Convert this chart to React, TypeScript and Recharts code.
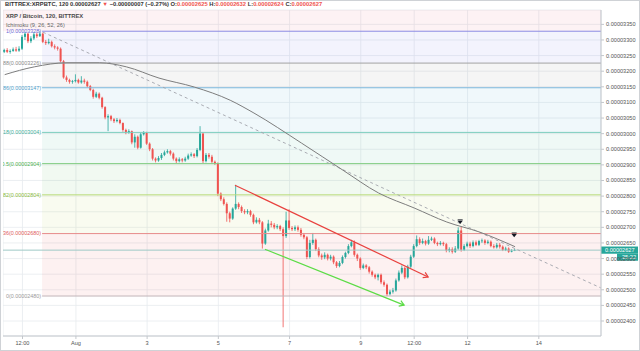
import React from 'react'
import {
  ComposedChart,
  Bar,
  Line,
  XAxis,
  YAxis,
  CartesianGrid,
  ReferenceArea,
  ReferenceLine,
  ReferenceDot,
} from 'recharts'

// XRP/BTC 2h candles, prices in 1e-8 BTC, index 0 = Jul 30 00:00
const opens = [
  3262, 3268, 3262, 3265, 3270, 3266, 3272, 3310, 3320, 3296, 3305, 3318, 3312, 3320, 3294, 3290, 3294, 3280, 3276, 3272,
  3232, 3180, 3172, 3166, 3168, 3172, 3164, 3170, 3166, 3152, 3140, 3118, 3128, 3115, 3085, 3052, 3056, 3046, 3040, 3044,
  3034, 3012, 3004, 3008, 2972, 2990, 2955, 2998, 3002, 2968, 2950, 2920, 2914, 2922, 2932, 2940, 2944, 2936, 2920, 2912,
  2918, 2914, 2920, 2930, 2934, 2928, 2948, 3000, 2912, 2932, 2926, 2910, 2905, 2808, 2790, 2775, 2745, 2728, 2760, 2775,
  2765, 2752, 2748, 2752, 2740, 2716, 2724, 2716, 2648, 2690, 2712, 2708, 2700, 2704, 2694, 2672, 2722, 2698, 2694, 2700,
  2692, 2676, 2668, 2605, 2650, 2660, 2630, 2610, 2604, 2612, 2600, 2606, 2588, 2576, 2586, 2605, 2618, 2640, 2652, 2612,
  2600, 2570, 2578, 2572, 2558, 2548, 2540, 2548, 2524, 2516, 2486, 2494, 2498, 2530, 2555, 2570, 2540, 2574, 2606, 2640,
  2662, 2650, 2656, 2648, 2660, 2664, 2650, 2646, 2650, 2646, 2626, 2630, 2622, 2632, 2690, 2628, 2640, 2648, 2640, 2652,
  2644, 2656, 2658, 2650, 2654, 2640, 2636, 2644, 2638, 2628, 2632, 2622, 2625,
]
const highs = [
  3272, 3274, 3270, 3276, 3278, 3280, 3316, 3326, 3324, 3312, 3325, 3324, 3328, 3324, 3300, 3304, 3298, 3286, 3280, 3276,
  3236, 3186, 3176, 3172, 3190, 3176, 3184, 3176, 3170, 3156, 3144, 3134, 3132, 3118, 3088, 3062, 3060, 3050, 3050, 3048,
  3036, 3016, 3014, 3010, 2998, 2994, 3002, 3008, 3006, 2972, 2954, 2924, 2928, 2938, 2946, 2950, 2948, 2940, 2924, 2924,
  2922, 2926, 2936, 2940, 2938, 2954, 3024, 3004, 2938, 2938, 2932, 2914, 2908, 2812, 2796, 2780, 2750, 2764, 2836, 2780,
  2770, 2758, 2758, 2756, 2744, 2732, 2730, 2720, 2696, 2724, 2720, 2714, 2710, 2708, 2700, 2750, 2758, 2704, 2706, 2706,
  2698, 2682, 2672, 2660, 2682, 2664, 2636, 2616, 2620, 2616, 2612, 2610, 2592, 2592, 2610, 2622, 2646, 2660, 2658, 2616,
  2604, 2584, 2582, 2576, 2562, 2552, 2552, 2552, 2530, 2520, 2500, 2506, 2536, 2562, 2578, 2574, 2580, 2612, 2646, 2674,
  2668, 2664, 2660, 2672, 2670, 2668, 2654, 2656, 2654, 2650, 2636, 2636, 2640, 2700, 2702, 2646, 2654, 2654, 2658, 2658,
  2660, 2664, 2662, 2660, 2658, 2646, 2650, 2650, 2642, 2638, 2636, 2630, 2632,
]
const lows = [
  3258, 3258, 3256, 3262, 3262, 3262, 3268, 3300, 3290, 3290, 3300, 3306, 3310, 3290, 3284, 3286, 3276, 3270, 3266, 3228,
  3176, 3166, 3160, 3160, 3164, 3160, 3160, 3160, 3148, 3136, 3112, 3114, 3110, 3080, 3046, 3008, 3040, 3034, 3036, 3030,
  3006, 2998, 3000, 2966, 2955, 2950, 2952, 2994, 2964, 2944, 2914, 2908, 2910, 2916, 2928, 2936, 2930, 2914, 2906, 2908,
  2908, 2910, 2916, 2926, 2922, 2924, 2944, 2906, 2908, 2920, 2904, 2900, 2800, 2784, 2770, 2718, 2716, 2724, 2756, 2758,
  2746, 2742, 2742, 2734, 2710, 2712, 2710, 2632, 2644, 2686, 2700, 2694, 2694, 2688, 2380, 2666, 2692, 2688, 2688, 2686,
  2670, 2662, 2598, 2600, 2644, 2624, 2604, 2596, 2598, 2594, 2594, 2582, 2570, 2572, 2582, 2600, 2614, 2636, 2606, 2592,
  2564, 2566, 2566, 2552, 2542, 2534, 2530, 2518, 2510, 2480, 2482, 2488, 2494, 2526, 2550, 2534, 2536, 2570, 2602, 2636,
  2644, 2646, 2642, 2644, 2656, 2646, 2640, 2642, 2640, 2620, 2620, 2616, 2618, 2628, 2622, 2624, 2636, 2634, 2636, 2640,
  2640, 2650, 2644, 2646, 2636, 2632, 2632, 2632, 2624, 2624, 2618, 2620, 2624,
]
const closes = [
  3268, 3262, 3265, 3270, 3266, 3272, 3310, 3320, 3296, 3305, 3318, 3312, 3320, 3294, 3290, 3294, 3280, 3276, 3272, 3232,
  3180, 3172, 3166, 3168, 3172, 3164, 3170, 3166, 3152, 3140, 3118, 3128, 3115, 3085, 3052, 3056, 3046, 3040, 3044, 3034,
  3012, 3004, 3008, 2972, 2990, 2955, 2998, 3002, 2968, 2950, 2920, 2914, 2922, 2932, 2940, 2944, 2936, 2920, 2912, 2918,
  2914, 2920, 2930, 2934, 2928, 2948, 3000, 2912, 2932, 2926, 2910, 2905, 2808, 2790, 2775, 2745, 2728, 2760, 2775, 2765,
  2752, 2748, 2752, 2740, 2716, 2724, 2716, 2648, 2690, 2712, 2708, 2700, 2704, 2694, 2672, 2722, 2698, 2694, 2700, 2692,
  2676, 2668, 2605, 2650, 2660, 2630, 2610, 2604, 2612, 2600, 2606, 2588, 2576, 2586, 2605, 2618, 2640, 2652, 2612, 2600,
  2570, 2578, 2572, 2558, 2548, 2540, 2548, 2524, 2516, 2486, 2494, 2498, 2530, 2555, 2570, 2540, 2574, 2606, 2640, 2662,
  2650, 2656, 2648, 2660, 2664, 2650, 2646, 2650, 2646, 2626, 2630, 2622, 2632, 2690, 2628, 2640, 2648, 2640, 2652, 2644,
  2656, 2658, 2650, 2654, 2640, 2636, 2644, 2638, 2628, 2632, 2622, 2625, 2627,
]

const timeTicks = [6, 24, 48, 72, 96, 120, 138, 156, 180]
const timeLabels = ['12:00', 'Aug', '3', '5', '7', '9', '12:00', '12', '14']
const priceTicks = [
  2400, 2450, 2500, 2550, 2600, 2650, 2700, 2750, 2800, 2850, 2900, 2950, 3000, 3050, 3100, 3150, 3200, 3250, 3300, 3350,
]

const ichimokuIdx = [0, 10, 21, 32, 41, 52, 64, 76, 84, 100, 114, 126, 138, 149, 160, 172]
const ichimokuVal = [3189, 3214, 3227, 3227, 3214, 3178, 3149, 3107, 3066, 2970, 2883, 2810, 2762, 2717, 2685, 2638]

const fibLevels = ['1', '0.88', '0.786', '0.618', '0.5', '0.382', '0.236', '0']
const fibPrices = [3328, 3226, 3147, 3004, 2904, 2804, 2680, 2480]

const lastPrice = 2627
const countdown = '25:22'

const X_MIN = -0.57
const X_MAX = 200.96
const Y_MIN = 2352
const Y_MAX = 3396
const FIB_START = 12.6

const UP = '#26a69a'
const DOWN = '#ef5350'

const fibLine = ['#8b8be4', '#a3a3a3', '#7db9dc', '#7ccdbd', '#7fcc7f', '#b8db78', '#e68a8a', '#c2b4b8']
const fibText = ['#6b6bd6', '#8a8a8a', '#4f9fcb', '#3fae9a', '#4caf50', '#8cbb3c', '#de5c5c', '#9a9a9a']
const fibFill = ['#6a6ae0', '#808080', '#3fa0d2', '#2fb090', '#4caf50', '#b0d040', '#e04848']

const fmt = (v: number) => (v / 1e8).toFixed(8)

const data = opens.map((o, k) => ({ i: k, o, h: highs[k], l: lows[k], c: closes[k] }))
const ichData = ichimokuIdx.map((i, k) => ({ i, v: ichimokuVal[k] }))

const Candle = (props: any) => {
  const { x, y, width, height, payload } = props
  if (!payload) return null
  const { o, h, l, c } = payload
  const top = Math.min(y, y + height)
  const H = Math.abs(height)
  const k = H / (h - l)
  const cx = x + width / 2
  const yO = top + (h - o) * k
  const yC = top + (h - c) * k
  const color = c >= o ? UP : DOWN
  const bodyTop = Math.min(yO, yC)
  const bodyH = Math.max(Math.abs(yO - yC), 0.8)
  return (
    <g>
      <line x1={cx} x2={cx} y1={top} y2={top + H} stroke={color} strokeWidth={0.8} />
      <rect x={cx - 1} y={bodyTop} width={2} height={bodyH} fill={color} />
    </g>
  )
}

const arrowShape = (color: string) => (props: any) => {
  const { x1, y1, x2, y2 } = props
  const ang = Math.atan2(y2 - y1, x2 - x1)
  const L = 5.5
  const a1 = ang + Math.PI * 0.82
  const a2 = ang - Math.PI * 0.82
  return (
    <g>
      <line x1={x1} y1={y1} x2={x2} y2={y2} stroke={color} strokeWidth={1.2} />
      <path
        d={`M${x2 + L * Math.cos(a1)},${y2 + L * Math.sin(a1)} L${x2},${y2} L${x2 + L * Math.cos(a2)},${y2 + L * Math.sin(a2)}`}
        fill="none"
        stroke={color}
        strokeWidth={1.2}
      />
    </g>
  )
}

const Marker = (props: any) => {
  const { cx, cy } = props
  return (
    <g>
      <rect x={cx - 2.5} y={cy - 2.6} width={5} height={0.9} fill="#131722" />
      <path d={`M${cx - 2.6},${cy - 1.2} L${cx + 2.6},${cy - 1.2} L${cx},${cy + 2} Z`} fill="#131722" />
    </g>
  )
}

const PriceTag = (props: any) => {
  const vb = props.viewBox || {}
  const x = vb.x + vb.width
  const y = vb.y
  return (
    <g>
      <rect x={x} y={y - 3.6} width={37} height={7.2} fill={UP} />
      <text x={x + 4} y={y + 2} fontSize={5.6} fill="#fff">
        {fmt(lastPrice)}
      </text>
      <rect x={x + 16} y={y + 3.6} width={21} height={7} fill={UP} />
      <text x={x + 21} y={y + 9} fontSize={5.6} fill="#fff">
        {countdown}
      </text>
    </g>
  )
}

export default function App() {
  return (
    <div
      style={{
        position: 'relative',
        width: 640,
        height: 351,
        background: '#fff',
        fontFamily: '"Liberation Sans", Arial, sans-serif',
        overflow: 'hidden',
      }}
    >
      <style>{`body{margin:0}`}</style>
      <ComposedChart width={640} height={351} data={data} margin={{ top: 10, right: 2, left: 3, bottom: 0 }}>
        <ReferenceArea x1={X_MIN} x2={X_MAX} y1={fibPrices[0]} y2={Y_MAX} fill="#e04060" fillOpacity={0.07} ifOverflow="visible" />
        {fibFill.map((f, k) => (
          <ReferenceArea
            key={'fa' + k}
            x1={FIB_START}
            x2={X_MAX}
            y1={fibPrices[k + 1]}
            y2={fibPrices[k]}
            fill={f}
            fillOpacity={0.08}
            ifOverflow="visible"
          />
        ))}
        <CartesianGrid stroke="#e7ebef" strokeWidth={0.8} />
        <XAxis
          type="number"
          dataKey="i"
          domain={[X_MIN, X_MAX]}
          allowDataOverflow
          ticks={timeTicks}
          interval={0}
          tickFormatter={(v: number) => timeLabels[timeTicks.indexOf(v)] ?? ''}
          tick={{ fontSize: 5.6, fill: '#555' }}
          tickSize={3}
          tickMargin={2}
          stroke="#c3c7cc"
          height={15}
        />
        <YAxis
          type="number"
          orientation="right"
          domain={[Y_MIN, Y_MAX]}
          allowDataOverflow
          ticks={priceTicks}
          interval={0}
          tickFormatter={fmt}
          tick={{ fontSize: 5.6, fill: '#555' }}
          tickSize={3}
          tickMargin={2}
          stroke="#c3c7cc"
          width={37}
        />
        {fibPrices.map((p, k) => (
          <ReferenceLine
            key={'fl' + k}
            segment={[
              { x: FIB_START, y: p },
              { x: X_MAX, y: p },
            ]}
            stroke={fibLine[k]}
            strokeWidth={1}
            ifOverflow="visible"
            label={{ value: `${fibLevels[k]}(${fmt(p)})`, position: 'left', offset: 1, fontSize: 5.4, fill: fibText[k] }}
          />
        ))}
        <ReferenceLine y={lastPrice} stroke="#9fc9c6" strokeWidth={1} ifOverflow="visible" label={<PriceTag />} />
        <ReferenceLine
          segment={[
            { x: 12.9, y: 3325 },
            { x: 200.9, y: 2506 },
          ]}
          stroke="#a1a4ab"
          strokeDasharray="3 3"
          strokeWidth={0.9}
          ifOverflow="visible"
        />
        <Line
          data={ichData}
          dataKey="v"
          type="monotone"
          dot={false}
          stroke="#7d7d7d"
          strokeWidth={1}
          isAnimationActive={false}
        />
        <Bar dataKey={(d: any) => [d.l, d.h]} barSize={2} shape={<Candle />} isAnimationActive={false} />
        <ReferenceLine
          segment={[
            { x: 77.6, y: 2835 },
            { x: 142.7, y: 2541 },
          ]}
          shape={arrowShape('#e8413e')}
          ifOverflow="visible"
        />
        <ReferenceLine
          segment={[
            { x: 87.7, y: 2630 },
            { x: 134.6, y: 2451 },
          ]}
          shape={arrowShape('#5cdc46')}
          ifOverflow="visible"
        />
        <ReferenceDot x={153.5} y={2717} shape={<Marker />} ifOverflow="visible" />
        <ReferenceDot x={171.7} y={2675} shape={<Marker />} ifOverflow="visible" />
      </ComposedChart>
      <div style={{ position: 'absolute', left: 0, top: 10, width: 3, height: 326, background: '#fff' }} />
      <div
        style={{
          position: 'absolute',
          left: 5,
          top: 0,
          fontSize: 5.8,
          lineHeight: '9px',
          fontWeight: 700,
          color: '#333',
          whiteSpace: 'nowrap',
        }}
      >
        BITTREX:XRPBTC, 120 0.00002627 <span style={{ color: DOWN }}>▼</span> −0.00000007 (−0.27%) O:
        <span style={{ color: DOWN }}>0.00002625</span> H:<span style={{ color: DOWN }}>0.00002632</span> L:
        <span style={{ color: DOWN }}>0.00002624</span> C:<span style={{ color: DOWN }}>0.00002627</span>
      </div>
      <div
        style={{
          position: 'absolute',
          left: 6,
          top: 12,
          fontSize: 5.8,
          lineHeight: '9px',
          fontWeight: 700,
          color: '#4a4a4a',
          whiteSpace: 'nowrap',
        }}
      >
        XRP / Bitcoin, 120, BITTREX
      </div>
      <div
        style={{
          position: 'absolute',
          left: 6,
          top: 20.5,
          fontSize: 5.6,
          lineHeight: '9px',
          color: '#666',
          whiteSpace: 'nowrap',
        }}
      >
        Ichimoku (9, 26, 52, 26)
      </div>
      <div
        style={{
          position: 'absolute',
          left: 0,
          top: 0,
          width: 638,
          height: 349,
          border: '1px solid #cfd2d6',
          pointerEvents: 'none',
        }}
      />
    </div>
  )
}
